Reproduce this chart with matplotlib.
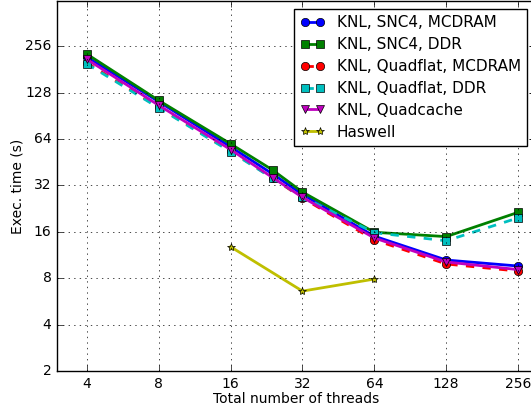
import matplotlib
matplotlib.use('Agg')
import matplotlib.pyplot as plt
from matplotlib.ticker import FixedLocator, FixedFormatter, NullLocator

threads = [4, 8, 16, 24, 32, 64, 128, 256]
snc4_mcdram = [218, 112, 57, 38, 28, 15, 10.5, 9.6]
snc4_ddr = [228, 114, 59.6, 40.3, 29, 15.9, 14.9, 21.4]
quadflat_mcdram = [200, 103, 53.5, 35.8, 26.5, 14.2, 9.9, 8.9]
quadflat_ddr = [197, 102, 53, 35.6, 27, 15.8, 14.0, 19.7]
quadcache = [211, 106, 54.7, 36, 26.8, 14.6, 10.2, 9.1]

haswell_threads = [16, 32, 64]
haswell = [12.8, 6.6, 7.9]

tick_vals = [2, 4, 8, 16, 32, 64, 128, 256]
xtick_vals = [4, 8, 16, 32, 64, 128, 256]

plt.style.use('classic')
plt.rcParams['font.size'] = 10
plt.rcParams['figure.facecolor'] = 'white'
plt.rcParams['savefig.facecolor'] = 'white'

fig = plt.figure(figsize=(5.31, 4.13), dpi=100)
ax = fig.add_axes([57 / 531, 42 / 413, 477.5 / 531, 369.5 / 413])

ax.plot(threads, snc4_mcdram, 'bo-', lw=2, ms=6, label='KNL, SNC4, MCDRAM')
ax.plot(threads, snc4_ddr, 'gs-', lw=2, ms=6, label='KNL, SNC4, DDR')
ax.plot(threads, quadflat_mcdram, 'ro--', lw=2, ms=6, label='KNL, Quadflat, MCDRAM')
ax.plot(threads, quadflat_ddr, 'cs--', lw=2, ms=6, label='KNL, Quadflat, DDR')
ax.plot(threads, quadcache, 'mv-', lw=2, ms=6, label='KNL, Quadcache')
ax.plot(haswell_threads, haswell, 'y*-', lw=2, ms=6, label='Haswell')

ax.set_xscale('log', base=2)
ax.set_yscale('log', base=2)
ax.set_xlim(3, 300)
ax.set_ylim(2, 500)
ax.xaxis.set_major_locator(FixedLocator(xtick_vals))
ax.xaxis.set_major_formatter(FixedFormatter([str(v) for v in xtick_vals]))
ax.yaxis.set_major_locator(FixedLocator(tick_vals))
ax.yaxis.set_major_formatter(FixedFormatter([str(v) for v in tick_vals]))
ax.xaxis.set_minor_locator(NullLocator())
ax.yaxis.set_minor_locator(NullLocator())
ax.tick_params(labelsize=10)
ax.grid(True)

ax.set_xlabel('Total number of threads', fontsize=10, labelpad=1)
ax.set_ylabel('Exec. time (s)', fontsize=10, labelpad=0)
ax.legend(loc='upper right', fontsize=11, numpoints=2, handlelength=1.6,
          labelspacing=0.45)

fig.savefig('out.png', dpi=100)
